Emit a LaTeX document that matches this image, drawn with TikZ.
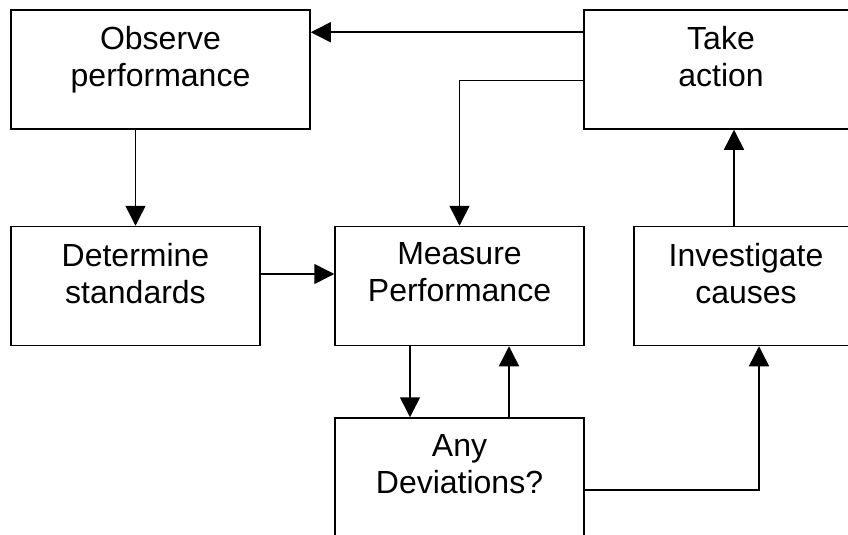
\documentclass[tikz,border=0pt]{standalone}
\usepackage{fontspec}
\setmainfont{Liberation Sans}
\usetikzlibrary{arrows.meta,calc}
\begin{document}
\begin{tikzpicture}[x=1pt,y=-1pt,
  box/.style={draw,line width=1.5pt,rectangle,inner sep=0pt,minimum height=119pt},
  lbl/.style={align=center,anchor=north,inner sep=0pt,font=\fontsize{32}{37}\selectfont},
  link/.style={line width=1.5pt},
  arr/.style={link,-{Triangle[length=20pt,width=20pt]}}]
\useasboundingbox[fill=white] (0,0) rectangle (848,535);

% boxes
\node[box,minimum width=299pt] (obs)  at (160.5,69.5) {};
\node[box,minimum width=274pt] (take) at (721,69.5)   {};
\node[box,minimum width=249pt] (det)  at (135.5,286)  {};
\node[box,minimum width=249pt] (meas) at (459.5,286)  {};
\node[box,minimum width=224pt] (inv)  at (746,286)    {};
\node[box,minimum width=249pt,minimum height=120pt] (dev) at (459.5,478) {};

% captions
\node[lbl] (obsT)  at ($(obs.north)+(0,17)$)  {Observe\\performance};
\node[lbl] (takeT) at ($(take.north)+(0,17)$) {Take\\action};
\node[lbl] (detT)  at ($(det.north)+(0,17)$)  {Determine\\standards};
\node[lbl] (measT) at ($(meas.north)+(0,17)$) {Measure\\Performance};
\node[lbl] (invT)  at ($(inv.north)+(0,17)$)  {Investigate\\causes};
\node[lbl] (devT)  at ($(dev.north)+(0,17)$)  {Any\\Deviations?};

% connectors
\draw[arr] ($(take.north west)+(0,23)$) coordinate (t1) -- (t1 -| obs.east);
\draw[arr] ($(take.north west)+(0,71)$) -| (meas.north);
\draw[arr] (det.north |- obs.south) -- (det.north);
\draw[arr] ($(det.east)+(0,-12)$) coordinate (d1) -- (d1 -| meas.west);
\draw[arr] ($(meas.south)+(-49.5,0)$) coordinate (m1) -- (m1 |- dev.north);
\draw[arr] ($(dev.north)+(49.5,0)$) coordinate (v1) -- (v1 |- meas.south);
\draw[arr] ($(dev.east)+(0,12)$) -| ($(inv.south)+(13,0)$);
\draw[arr] ($(inv.north)+(-12,0)$) coordinate (i1) -- (i1 |- take.south);
\end{tikzpicture}
\end{document}
